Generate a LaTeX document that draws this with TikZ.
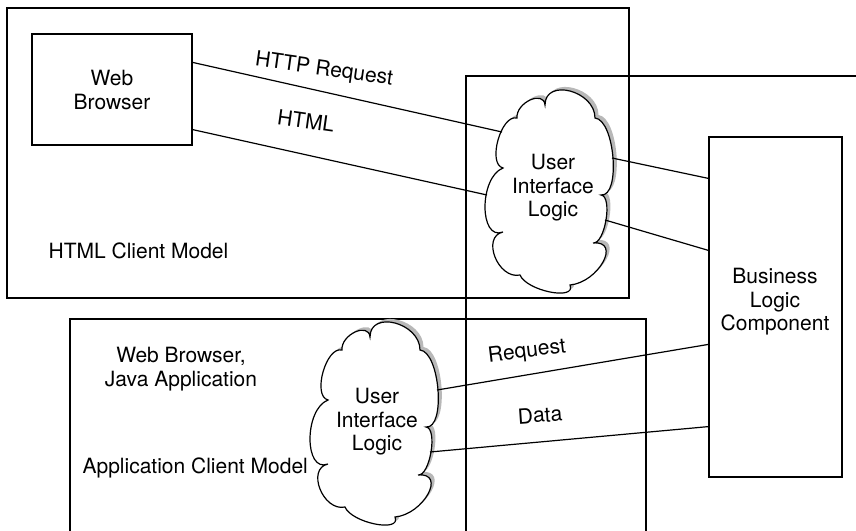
\documentclass[tikz,border=0pt]{standalone}
\usepackage{fontspec}
\setmainfont{TeX Gyre Heros}
\usetikzlibrary{calc}

% outline of a user-interface cloud (nine puffs), relative to its centre
\newcommand\uioutline{%
  (-33,-74) .. controls (-34.3,-89.3) and (-6.3,-102.3) .. (-5,-87)
  .. controls (-5,-114.3) and (45,-101.3) .. (45,-74)
  .. controls (65,-72) and (71,5) .. (51,3)
  .. controls (63,4.3) and (55,52.3) .. (43,51)
  .. controls (71.7,48.3) and (48.7,90.3) .. (20,93)
  .. controls (26.7,109) and (-23.3,99) .. (-30,83)
  .. controls (-52,87.7) and (-69,44.7) .. (-47,40)
  .. controls (-71,49.3) and (-71,-14.7) .. (-47,-24)
  .. controls (-63,-28) and (-49,-78) .. (-33,-74) -- cycle}

\begin{document}
\begin{tikzpicture}[x=1pt,y=-1pt,line width=1.2pt,
  txt/.style={font=\fontsize{21}{23.5}\selectfont, inner sep=0pt, align=center},
  box/.style={draw, fill=white, inner sep=0pt},
  link/.style={draw},
  uicloud/.pic={
    \fill[black!28, shift={(3.5,-3)}] \uioutline;
    \draw[fill=white] \uioutline;
    \coordinate (-nw) at (-48,-60);
    \coordinate (-w) at (-63,3);
    \coordinate (-ne) at (62,-34);
    \coordinate (-se) at (55,28);
  }
]
\useasboundingbox (0,0) rectangle (856,530);
\clip (0,0) rectangle (856,530);

% the three model areas (the right one and the lower one run off the page)
\draw (7,8) rectangle (629,298);
\draw (466,76) rectangle (900,600);
\draw (70,319) rectangle (646,600);

% client model captions
\node[txt, anchor=base west] (htmlcap) at (48,258) {HTML Client Model};
\node[txt, anchor=base west] (appcap) at (82,473) {Application Client Model};
\node[txt] (clients) at (181,369) {Web Browser,\\Java Application};

% browser, business component and the two user interface clouds
\node[box, minimum width=160pt, minimum height=111pt] (wb) at (112,89.5) {};
\node[txt] (wbt) at (112,90) {Web\\Browser};

\node[box, minimum width=133pt, minimum height=340pt] (blc) at (775.5,307) {};
\node[txt] (blct) at (775,302) {Business\\Logic\\Component};

\pic (ui1) at (550,192) {uicloud};
\node[txt] (ui1t) at (553,188) {User\\Interface\\Logic};

\pic (ui2) at (375,424) {uicloud};
\node[txt] (ui2t) at (377,422) {User\\Interface\\Logic};

% connectors
\draw[link] ([yshift=-29pt]wb.north east) -- (ui1-nw);
\draw[link] ([yshift=16pt]wb.south east) -- (ui1-w);
\draw[link] (ui1-ne) -- ([yshift=-42pt]blc.north west);
\draw[link] (ui1-se) -- ([yshift=-114pt]blc.north west);
\draw[link] (ui2-ne) -- ([yshift=-208pt]blc.north west);
\draw[link] (ui2-se) -- ([yshift=51pt]blc.south west);

% connector labels
\node[txt, rotate=-8] (lreq) at (324,70) {HTTP Request};
\node[txt, rotate=-8] (lhtml) at (306,121) {HTML};
\node[txt, rotate=7] (lreq2) at (527,352) {Request};
\node[txt, rotate=4] (ldata) at (540,415) {Data};
\end{tikzpicture}
\end{document}
